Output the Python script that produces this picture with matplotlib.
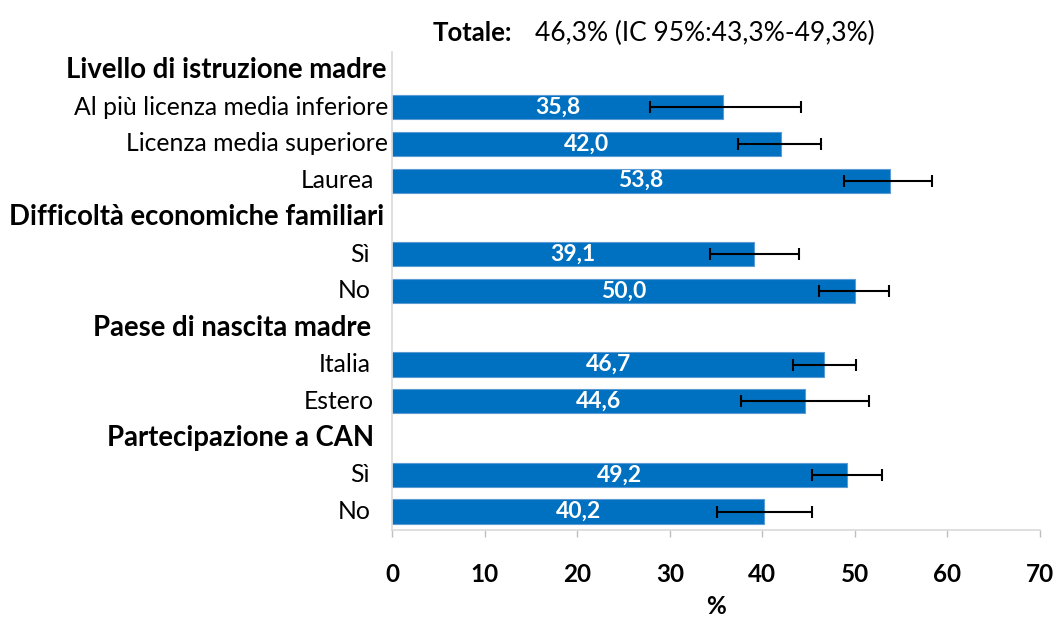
import numpy as np
import matplotlib
matplotlib.use("Agg")
import matplotlib.pyplot as plt
from matplotlib.transforms import offset_copy

plt.rcParams['font.family'] = ['Lato', 'DejaVu Sans']

# ===== Data =====
groups = ["Livello di istruzione madre", "Difficoltà economiche familiari",
          "Paese di nascita madre", "Partecipazione a CAN"]
labels = [
    ["Al più licenza media inferiore", "Licenza media superiore", "Laurea"],
    ["Sì", "No"],
    ["Italia", "Estero"],
    ["Sì", "No"],
]
values = [[35.8, 42.0, 53.8], [39.1, 50.0], [46.7, 44.6], [49.2, 40.2]]
ci_low = [[27.9, 37.4, 48.8], [34.4, 46.1], [43.3, 37.7], [45.4, 35.1]]
ci_high = [[44.2, 46.3, 58.3], [44.0, 53.7], [50.1, 51.5], [52.9, 45.4]]

totale = "46,3% (IC 95%:43,3%-49,3%)"

# gap (pixels) between the axis and the right end of each label
group_gap = [6, 8, 21, 18]
label_gap = [[4, 4, 18], [22, 21], [21, 18], [22, 21]]

blue = "#0070C0"

fig = plt.figure(figsize=(10.55, 6.19), dpi=100)
ax = fig.add_axes([0.3716, 0.1438, 0.6142, 0.7722])

n_slots = sum(len(l) + 1 for l in labels)
slot = 0
for g, name in enumerate(groups):
    y = n_slots - 1 - slot
    t = offset_copy(ax.get_yaxis_transform(), fig=fig, x=-group_gap[g], y=0, units='dots')
    ax.text(0, y, name, transform=t, ha='right', va='center',
            fontsize=19.8, fontweight='bold')
    slot += 1
    for i, lab in enumerate(labels[g]):
        y = n_slots - 1 - slot
        v = values[g][i]
        ax.barh(y, v, height=0.66, color=blue, edgecolor="#5B9BD5", linewidth=0.8)
        ax.errorbar(v, y, xerr=[[v - ci_low[g][i]], [ci_high[g][i] - v]],
                    fmt='none', ecolor='black', elinewidth=1.5, capsize=4.5,
                    capthick=1.5)
        ax.text(v / 2, y, f"{v:.1f}".replace('.', ','), ha='center', va='center',
                color='white', fontsize=16.5, fontweight='bold')
        t = offset_copy(ax.get_yaxis_transform(), fig=fig,
                        x=-label_gap[g][i], y=0, units='dots')
        ax.text(0, y, lab, transform=t, ha='right', va='center', fontsize=17.8)
        slot += 1

ax.set_xlim(0, 70)
ax.set_ylim(-0.5, n_slots - 0.5)
ax.set_xticks(np.arange(0, 71, 10))
ax.set_yticks([])
for lab in ax.get_xticklabels():
    lab.set_fontweight('bold')
ax.tick_params(axis='x', labelsize=17.5, direction='out', length=5, color='#BFBFBF',
               width=1, pad=19)
for s in ['top', 'right']:
    ax.spines[s].set_visible(False)
ax.spines['left'].set_color('#D9D9D9')
ax.spines['bottom'].set_color('#D9D9D9')
ax.spines['left'].set_linewidth(1.2)
ax.spines['bottom'].set_linewidth(1.2)

ax.set_xlabel("%", fontsize=17.5, fontweight='bold', labelpad=6)

# title
fig.text(433 / 1055, 1 - 33 / 619, "Totale:", fontsize=18.5, fontweight='bold',
         ha='left', va='center')
fig.text(535 / 1055, 1 - 33 / 619, totale, fontsize=19, ha='left', va='center')

fig.savefig("out.png", dpi=100)
